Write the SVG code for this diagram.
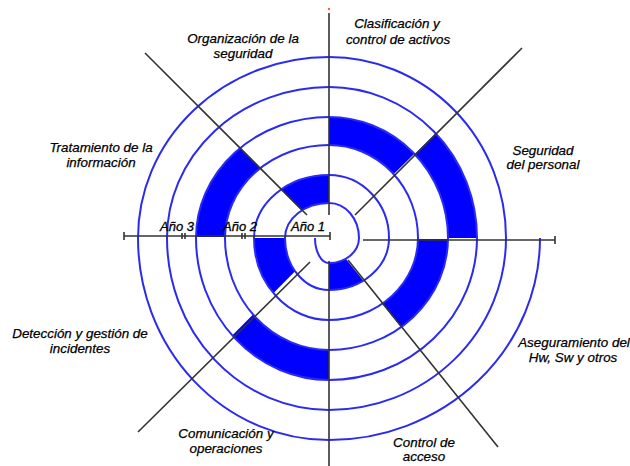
<svg xmlns="http://www.w3.org/2000/svg" width="630" height="466" viewBox="0 0 630 466">
  <style>
    .lbl { font-family: "Liberation Sans", Arial, sans-serif; font-size: 13.4px; font-style: italic; fill: #000; stroke: #000; stroke-width: 0.25; text-anchor: middle; }
    .yr { font-family: "Liberation Sans", Arial, sans-serif; font-size: 13px; font-style: italic; fill: #000; stroke: #000; stroke-width: 0.3; text-anchor: middle; }
    .axis { stroke: #333; stroke-width: 1.6; fill: none; stroke-linecap: butt; }
    .spiral { stroke: #2b2bf0; stroke-width: 2; fill: none; }
    .block { fill: #0000ff; stroke: none; }
  </style>
  <defs>
    <!-- wedges bounded by the axes and the diagonals -->
    <clipPath id="w-top-ne"><polygon points="329,238 329,-10 580,-10"/></clipPath>
    <clipPath id="w-ne-right"><polygon points="329,239 580,-10 700,-10 700,239"/></clipPath>
    <clipPath id="w-right-se"><polygon points="330,239 700,239 700,500 540,500"/></clipPath>
    <clipPath id="w-se-bottom"><polygon points="329,238 540,500 329,500"/></clipPath>
    <clipPath id="w-bottom-sw"><polygon points="329,238 329,500 69,500"/></clipPath>
    <clipPath id="w-sw-left"><polygon points="329,237 69,500 -10,500 -10,237"/></clipPath>
    <clipPath id="w-left-nw"><polygon points="329,237 -10,237 -10,-10 82,-10"/></clipPath>
    <clipPath id="w-nw-top"><polygon points="329,238 82,-10 329,-10"/></clipPath>
  </defs>

  <rect width="630" height="466" fill="#fff"/>

  <!-- filled segments between spiral turns -->
  <g id="blocks">
    <path class="block" clip-path="url(#w-top-ne)" d="M418 238 A89 93 0 0 0 329 145 L329 117 A119 121 0 0 1 448 238 Z"/>
    <path class="block" clip-path="url(#w-ne-right)" d="M448 238 A119 121 0 0 0 329 117 L329 87 A148 151 0 0 1 477 238 Z"/>
    <path class="block" clip-path="url(#w-right-se)" d="M329 320 A89 82 0 0 0 418 238 L448 238 A119 112 0 0 1 329 350 Z"/>
    <path class="block" clip-path="url(#w-se-bottom)" d="M329 263 A30 25 0 0 0 359 238 L389 238 A60 52 0 0 1 329 290 Z"/>
    <path class="block" clip-path="url(#w-bottom-sw)" d="M225 238 A104 112 0 0 0 329 350 L329 380 A133 142 0 0 1 196 238 Z"/>
    <path class="block" clip-path="url(#w-sw-left)" d="M285 238 A44 52 0 0 0 329 290 L329 320 A75 82 0 0 1 254 238 Z"/>
    <path class="block" clip-path="url(#w-left-nw)" d="M329 145 A104 93 0 0 0 225 238 L196 238 A133 121 0 0 1 329 117 Z"/>
    <path class="block" clip-path="url(#w-nw-top)" d="M329 203 A44 35 0 0 0 285 238 L254 238 A75 63 0 0 1 329 175 Z"/>
  </g>

  <!-- spiral -->
  <g id="spiral">
    <path class="spiral" d="M315 238
      A14 25 0 0 0 329 263
      A30 25 0 0 0 359 238
      A30 35 0 0 0 329 203
      A44 35 0 0 0 285 238
      A44 52 0 0 0 329 290
      A60 52 0 0 0 389 238
      A60 63 0 0 0 329 175
      A75 63 0 0 0 254 238
      A75 82 0 0 0 329 320
      A89 82 0 0 0 418 238
      A89 93 0 0 0 329 145
      A104 93 0 0 0 225 238
      A104 112 0 0 0 329 350
      A119 112 0 0 0 448 238
      A119 121 0 0 0 329 117
      A133 121 0 0 0 196 238
      A133 142 0 0 0 329 380
      A148 142 0 0 0 477 238
      A148 151 0 0 0 329 87
      A162 151 0 0 0 167 238
      A162 172 0 0 0 329 410
      A177 172 0 0 0 506 238
      A177 181 0 0 0 329 57
      A191 181 0 0 0 138 238
      A191 202 0 0 0 329 440
      A211 202 0 0 0 540 238"/>
  </g>

  <!-- axes and diagonals -->
  <g id="connectors">
    <line class="axis" x1="329" y1="13" x2="329" y2="215"/>
    <line class="axis" x1="329" y1="261" x2="329" y2="466"/>
    <line class="axis" x1="124" y1="236" x2="330" y2="236"/>
    <line class="axis" x1="363" y1="240" x2="555" y2="240"/>
    <line class="axis" x1="145" y1="53" x2="307" y2="215"/>
    <line class="axis" x1="355" y1="215" x2="522" y2="48"/>
    <line class="axis" x1="348" y1="260" x2="498" y2="447"/>
    <line class="axis" x1="310" y1="262" x2="138" y2="432"/>
    <!-- ticks on the year scale -->
    <path class="axis" d="M124 232 V240 M330 232 V240 M182 233 V239 M185 233 V239 M242 233 V239 M245 233 V239 M555 236 V244"/>
    <circle cx="329" cy="9" r="1.2" fill="#f55"/>
  </g>

  <!-- labels -->
  <g id="year-labels">
    <text class="yr" x="177" y="231">Año 3</text>
    <text class="yr" x="240" y="231">Año 2</text>
    <text class="yr" x="308" y="231">Año 1</text>
  </g>
  <g id="clasificacion">
    <text class="lbl" x="397" y="28">Clasificación y</text>
    <text class="lbl" x="398" y="44">control de activos</text>
  </g>
  <g id="organizacion">
    <text class="lbl" x="243" y="43">Organización de la</text>
    <text class="lbl" x="243" y="58">seguridad</text>
  </g>
  <g id="tratamiento">
    <text class="lbl" x="101" y="152">Tratamiento de la</text>
    <text class="lbl" x="101" y="167">información</text>
  </g>
  <g id="seguridad-personal">
    <text class="lbl" x="543" y="155">Seguridad</text>
    <text class="lbl" x="543" y="169">del personal</text>
  </g>
  <g id="deteccion">
    <text class="lbl" x="80" y="338">Detección y gestión de</text>
    <text class="lbl" x="80" y="353">incidentes</text>
  </g>
  <g id="aseguramiento">
    <text class="lbl" x="574" y="347">Aseguramiento del</text>
    <text class="lbl" x="573" y="362">Hw, Sw y otros</text>
  </g>
  <g id="comunicacion">
    <text class="lbl" x="226" y="438">Comunicación y</text>
    <text class="lbl" x="226" y="453">operaciones</text>
  </g>
  <g id="control-acceso">
    <text class="lbl" x="424" y="447">Control de</text>
    <text class="lbl" x="424" y="461">acceso</text>
  </g>
</svg>
